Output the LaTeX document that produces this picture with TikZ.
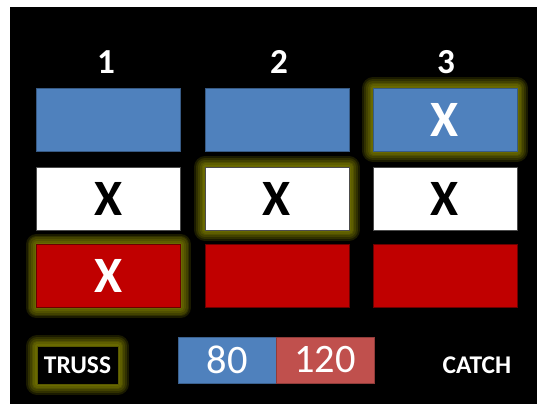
\documentclass[tikz,border=0pt]{standalone}
\usepackage{fontspec}
\setmainfont{Carlito}

\definecolor{tileblue}{RGB}{79,129,189}
\definecolor{tilered}{RGB}{192,0,0}
\definecolor{scorered}{RGB}{192,80,77}
\definecolor{glowc}{RGB}{160,160,0}

\begin{document}
\begin{tikzpicture}[
  x=0.02cm, y=-0.02cm,
  tile/.style={rectangle, minimum width=2.88cm, minimum height=1.26cm, inner sep=0pt,
    font=\bfseries\fontsize{29}{31}\selectfont},
  blue tile/.style={tile, fill=tileblue, draw=tileblue!70!black, text=white},
  white tile/.style={tile, fill=white, draw=black!70, text=black},
  red tile/.style={tile, fill=tilered, draw=tilered!55!black, text=white},
  halo/.style={draw=glowc, line width=#1, opacity=0.17, line join=round},
  glow/.style={
    preaction={halo=12pt}, preaction={halo=10pt}, preaction={halo=8pt},
    preaction={halo=6pt}, preaction={halo=4pt}, preaction={halo=2pt}},
  head/.style={text=white, font=\bfseries\fontsize{20}{22}\selectfont},
  score/.style={rectangle, minimum height=0.92cm, inner sep=0pt, text=white,
    font=\fontsize{23}{25}\selectfont},
  word/.style={text=white, font=\bfseries\fontsize{14.5}{16}\selectfont}
]

  \useasboundingbox (0,0) rectangle (537,404);
  \fill[black] (10,7) rectangle (537,404);

  % Column numbers
  \node[head] (h1) at (106,62) {1};
  \node[head] (h2) at (279,62) {2};
  \node[head] (h3) at (446,62) {3};

  % Blue row
  \node[blue tile] (b1) at (108.5,119.5) {};
  \node[blue tile] (b2) at (277,119.5) {};
  \node[blue tile, glow] (b3) at (445,119.5) {X};

  % White row
  \node[white tile] (w1) at (108.5,198.5) {X};
  \node[white tile, glow] (w2) at (277,198.5) {X};
  \node[white tile] (w3) at (445,198.5) {X};

  % Red row
  \node[red tile, glow] (r1) at (108.5,276) {X};
  \node[red tile] (r2) at (277,276) {};
  \node[red tile] (r3) at (445,276) {};

  % Bottom line
  \node[word, glow, fill=black, draw=glowc!55!black, minimum width=1.62cm,
    minimum height=0.76cm, inner sep=0pt] (truss) at (77.5,365) {TRUSS};
  \node[score, fill=tileblue, draw=tileblue!75!black, minimum width=1.96cm] (s80) at (227,360) {80};
  \node[score, fill=scorered, draw=scorered!75!black, minimum width=1.96cm] (s120) at (325,360) {120};
  \node[word] (catch) at (477,365) {CATCH};

\end{tikzpicture}
\end{document}
